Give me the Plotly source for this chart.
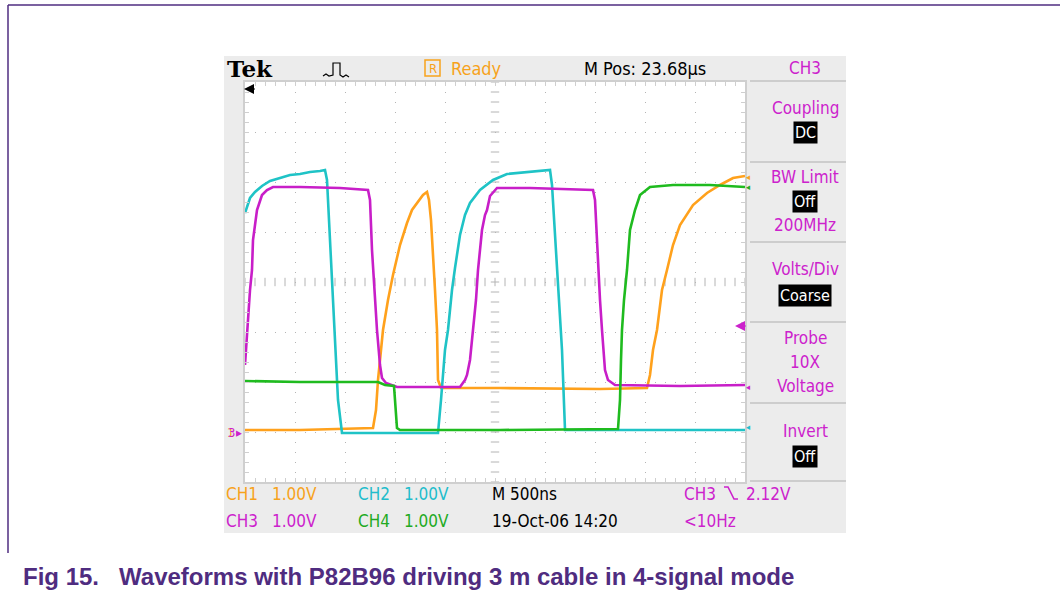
import numpy as np
import plotly.graph_objects as go

# time in ns from left edge of screen (500 ns/div), level in volts (1 V/div, ground at 0)
ch1_t = [0, 550, 1280, 1310, 1330, 1380, 1430, 1480, 1550, 1620, 1670, 1720, 1780, 1820, 1840, 1860,
         1880, 1900, 1920, 1930, 1960, 2550, 3550, 4020, 4050, 4080, 4120, 4170, 4220, 4280, 4350,
         4480, 4620, 4750, 4880, 5000]
ch1_v = [0.04, 0.04, 0.08, 0.44, 1.04, 2.04, 2.64, 3.14, 3.74, 4.18, 4.44, 4.58, 4.74, 4.80, 4.64, 4.24,
         3.64, 2.84, 2.04, 1.04, 0.88, 0.88, 0.86, 0.88, 1.14, 1.64, 2.04, 2.84, 3.24, 3.74, 4.14,
         4.54, 4.78, 4.94, 5.08, 5.12]

ch2_t = [0, 50, 100, 170, 250, 350, 450, 550, 650, 750, 800, 820, 850, 900, 930, 970, 1930, 1960,
         2000, 2030, 2070, 2100, 2150, 2200, 2250, 2350, 2480, 2620, 2820, 3050, 3070, 3090, 3120,
         3170, 3200, 5000]
ch2_v = [4.38, 4.68, 4.80, 4.92, 5.02, 5.08, 5.14, 5.16, 5.20, 5.22, 5.24, 5.04, 3.84, 2.04, 0.64,
         -0.02, -0.02, 0.64, 1.64, 2.04, 2.84, 3.28, 3.94, 4.34, 4.58, 4.84, 5.04, 5.16, 5.20, 5.24,
         4.94, 4.24, 3.24, 1.64, 0.04, 0.04]

ch3_t = [0, 20, 50, 70, 80, 120, 170, 220, 280, 550, 950, 1230, 1250, 1270, 1300, 1320, 1350, 1370,
         1410, 1520, 1750, 2150, 2200, 2220, 2250, 2280, 2310, 2330, 2370, 2400, 2420, 2450, 2520,
         2850, 3150, 3480, 3500, 3520, 3530, 3550, 3570, 3600, 3630, 3700, 4350, 5000]
ch3_v = [1.34, 2.04, 2.84, 3.24, 3.84, 4.44, 4.74, 4.84, 4.90, 4.90, 4.88, 4.84, 4.64, 3.64, 2.64,
         2.04, 1.34, 1.08, 0.98, 0.90, 0.90, 0.90, 1.04, 1.14, 1.44, 2.04, 2.64, 3.24, 4.04, 4.34,
         4.44, 4.72, 4.88, 4.88, 4.86, 4.84, 4.64, 3.84, 3.24, 2.64, 2.04, 1.24, 1.04, 0.94, 0.92, 0.94]

ch4_t = [0, 550, 1330, 1400, 1490, 1500, 1520, 1550, 2550, 3730, 3750, 3760, 3770, 3790, 3820, 3850,
         3900, 3950, 4050, 4280, 4650, 5000]
ch4_v = [1.02, 1.00, 1.00, 0.94, 0.92, 0.64, 0.08, 0.04, 0.04, 0.06, 0.64, 1.44, 2.04, 2.64, 3.24,
         4.04, 4.44, 4.74, 4.90, 4.94, 4.94, 4.90]

ORANGE = '#ffa11c'
CYAN = '#1fc3c6'
MAGENTA = '#c81ec8'
GREEN = '#1fbb1f'
TXT_OR = '#f7a21b'
TXT_CY = '#22bccb'
TXT_MG = '#cc22cc'
TXT_GR = '#22aa22'
PURPLE = '#4f2c80'
GRID = '#b4b4b4'
EDGE = '#cfcfcf'
PANEL = '#ececec'
SCOPE_FONT = 'DejaVu Sans Condensed, DejaVu Sans, sans-serif'

# plot area is 245..745 px wide, 82..482 px tall
def px(x):
    return (x - 245) / 500


def py(y):
    return (482 - y) / 400


fig = go.Figure()

# centre graticule lines drawn as tick marks
fig.add_trace(go.Scatter(x=np.arange(0, 5001, 100), y=[3] * 51, mode='markers',
                         marker=dict(symbol='line-ns', size=6, line=dict(width=1, color=GRID)),
                         hoverinfo='skip', showlegend=False))
fig.add_trace(go.Scatter(x=[2500] * 41, y=np.linspace(-1, 7, 41), mode='markers',
                         marker=dict(symbol='line-ew', size=6, line=dict(width=1, color=GRID)),
                         hoverinfo='skip', showlegend=False))

for t, v, c in [(ch1_t, ch1_v, ORANGE), (ch2_t, ch2_v, CYAN), (ch3_t, ch3_v, MAGENTA), (ch4_t, ch4_v, GREEN)]:
    fig.add_trace(go.Scatter(x=t, y=v, mode='lines', line=dict(color=c, width=2.6),
                             hoverinfo='skip', showlegend=False))


def path(points):
    return 'M' + ' L'.join('{},{}'.format(px(a), py(b)) for a, b in points)


shapes = [
    # scope bezel and screen
    dict(type='rect', xref='paper', yref='paper', x0=px(224), x1=px(846), y0=py(533), y1=py(56),
         fillcolor=PANEL, line=dict(width=0), layer='below'),
    dict(type='rect', xref='paper', yref='paper', x0=0, x1=1, y0=0, y1=1,
         fillcolor='white', line=dict(width=0), layer='below'),
    # page frame
    dict(type='line', xref='paper', yref='paper', x0=px(8), x1=px(1060), y0=py(5), y1=py(5),
         line=dict(color=PURPLE, width=1.5)),
    dict(type='line', xref='paper', yref='paper', x0=px(8), x1=px(8), y0=py(5), y1=py(553),
         line=dict(color=PURPLE, width=1.5)),
    # Ready box
    dict(type='rect', xref='paper', yref='paper', x0=px(425), x1=px(440), y0=py(76), y1=py(60),
         line=dict(color=TXT_OR, width=1.5)),
    # trigger pulse icon
    dict(type='path', xref='paper', yref='paper', line=dict(color='black', width=1.2),
         path=path([(323, 76), (326, 74), (329, 76), (333, 75), (333, 63), (340, 63), (340, 75),
                    (343, 77), (346, 75), (349, 77)])),
    # falling edge trigger symbol
    dict(type='path', xref='paper', yref='paper', line=dict(color=TXT_MG, width=1.6),
         path=path([(724, 487), (728, 487), (734, 499), (738, 499)])),
]
for sy in [81, 162, 242, 322, 403, 481]:
    shapes.append(dict(type='line', xref='paper', yref='paper', x0=px(750), x1=px(846),
                       y0=py(sy), y1=py(sy), line=dict(color='#cdcdcd', width=2)))

ann = []


def text(s, x, y, color='black', size=16, anchor='left', family=SCOPE_FONT, bg=None):
    ann.append(dict(text=s, x=px(x), y=py(y), xref='paper', yref='paper', showarrow=False,
                    xanchor=anchor, yanchor='middle',
                    font=dict(family=family, size=size, color=color),
                    bgcolor=bg, borderpad=1))


text('<b>Tek</b>', 225, 68, size=23, family='DejaVu Serif, Liberation Serif, serif')
text('R', 432.5, 68, TXT_OR, 13, 'center')
text('Ready', 449, 68, TXT_OR, 18)
text('M Pos: 23.68µs', 582, 68, 'black', 18)
text('CH3', 805, 68, TXT_MG, 17, 'center')

text('Coupling', 805, 108, TXT_MG, 17, 'center')
text('DC', 805, 132, 'white', 16, 'center', bg='black')
text('BW Limit', 805, 177, TXT_MG, 17, 'center')
text('Off', 805, 201, 'white', 16, 'center', bg='black')
text('200MHz', 805, 225, TXT_MG, 17, 'center')
text('Volts/Div', 805, 269, TXT_MG, 17, 'center')
text('Coarse', 805, 295, 'white', 16, 'center', bg='black')
text('Probe', 805, 338, TXT_MG, 17, 'center')
text('10X', 805, 362, TXT_MG, 17, 'center')
text('Voltage', 805, 386, TXT_MG, 17, 'center')
text('Invert', 805, 431, TXT_MG, 17, 'center')
text('Off', 805, 456, 'white', 16, 'center', bg='black')

for label, value, x, y, c in [('CH1', '1.00V', 224, 494, TXT_OR), ('CH2', '1.00V', 356, 494, TXT_CY),
                              ('CH3', '1.00V', 224, 521, TXT_MG), ('CH4', '1.00V', 356, 521, TXT_GR)]:
    text(label, x, y, c, 17)
    text(value, x + 46, y, c, 17)
text('M 500ns', 490, 494, 'black', 17)
text('19-Oct-06 14:20', 490, 521, 'black', 17)
text('CH3', 682, 494, TXT_MG, 17)
text('2.12V', 744, 494, TXT_MG, 17)
text('<10Hz', 682, 521, TXT_MG, 17)

# channel reference markers
text('1', 225, 432, TXT_OR, 13)
text('3', 226, 432, TXT_MG, 13)
text('▸', 234, 432, TXT_MG, 13)
for yy, cc in [(177, TXT_OR), (187, TXT_GR), (387, TXT_MG), (427, TXT_CY)]:
    text('◂', 744, yy, cc, 9)
ann.append(dict(x=px(735), y=py(326), xref='paper', yref='paper', ax=12, ay=0, text='',
                showarrow=True, arrowhead=2, arrowsize=1, arrowwidth=2, arrowcolor=TXT_MG))
ann.append(dict(x=px(244), y=py(89), xref='paper', yref='paper', ax=12, ay=0, text='',
                showarrow=True, arrowhead=2, arrowsize=1, arrowwidth=2, arrowcolor='black'))

text('<b>Fig 15.   Waveforms with P82B96 driving 3 m cable in 4-signal mode</b>', 21, 576,
     PURPLE, 24, family='Liberation Sans, Arial, sans-serif')

axis_common = dict(showline=True, mirror='allticks', linecolor=EDGE, linewidth=2,
                   ticks='inside', ticklen=4, tickcolor=EDGE, showticklabels=False,
                   zeroline=False, showgrid=True, gridcolor=GRID, gridwidth=1, griddash='1px,9px',
                   fixedrange=True)

fig.update_xaxes(range=[0, 5000], tickvals=[0, 500, 1000, 1500, 2000, 3000, 3500, 4000, 4500, 5000],
                 minor=dict(dtick=100, ticks='inside', ticklen=4, tickcolor=EDGE), **axis_common)
fig.update_yaxes(range=[-1, 7], tickvals=[-1, 0, 1, 2, 4, 5, 6, 7],
                 minor=dict(dtick=0.2, ticks='inside', ticklen=4, tickcolor=EDGE), **axis_common)

fig.update_layout(width=1060, height=594, autosize=False,
                  margin=dict(l=245, r=315, t=82, b=112, pad=0),
                  paper_bgcolor='white', plot_bgcolor='white',
                  shapes=shapes, annotations=ann, showlegend=False)

fig.write_html("out.html", config={'displayModeBar': False},
               post_script="document.body.style.margin = '0px';")
